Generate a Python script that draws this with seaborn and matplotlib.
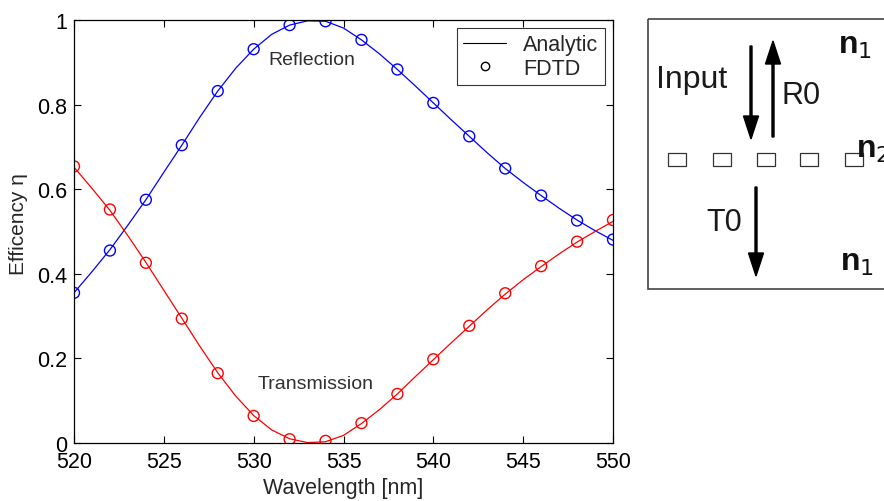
import seaborn as sns
import matplotlib.pyplot as plt
import pandas as pd
from matplotlib.patches import Rectangle, FancyArrow

# Analytic curves (1 nm steps)
wl_analytic = list(range(520, 551))
refl_analytic = [0.355, 0.405, 0.457, 0.515, 0.575, 0.640, 0.704, 0.770, 0.832, 0.886,
                 0.931, 0.966, 0.988, 0.998, 0.997, 0.981, 0.953, 0.920, 0.883, 0.844,
                 0.804, 0.764, 0.725, 0.686, 0.649, 0.616, 0.585, 0.555, 0.527, 0.502, 0.479]
trans_analytic = [0.652, 0.602, 0.550, 0.490, 0.427, 0.361, 0.295, 0.229, 0.166, 0.111,
                  0.065, 0.031, 0.010, 0.001, 0.003, 0.018, 0.046, 0.079, 0.116, 0.157,
                  0.197, 0.237, 0.276, 0.315, 0.352, 0.386, 0.417, 0.447, 0.475, 0.500, 0.524]

# FDTD samples (2 nm steps)
wl_fdtd = list(range(520, 551, 2))
refl_fdtd = [0.355, 0.455, 0.575, 0.704, 0.832, 0.931, 0.988, 0.997,
             0.953, 0.883, 0.804, 0.725, 0.649, 0.585, 0.526, 0.481]
trans_fdtd = [0.654, 0.552, 0.426, 0.294, 0.165, 0.064, 0.009, 0.005,
              0.047, 0.116, 0.198, 0.277, 0.354, 0.418, 0.476, 0.527]

df_a = pd.concat([
    pd.DataFrame({'wl': wl_analytic, 'eff': refl_analytic, 'kind': 'Reflection'}),
    pd.DataFrame({'wl': wl_analytic, 'eff': trans_analytic, 'kind': 'Transmission'}),
])
df_f = pd.concat([
    pd.DataFrame({'wl': wl_fdtd, 'eff': refl_fdtd, 'kind': 'Reflection'}),
    pd.DataFrame({'wl': wl_fdtd, 'eff': trans_fdtd, 'kind': 'Transmission'}),
])
palette = {'Reflection': '#0000ff', 'Transmission': '#ff0000'}

sns.set_style('ticks')
plt.rcParams['font.family'] = ['Liberation Sans', 'DejaVu Sans']

fig = plt.figure(figsize=(8.84, 5.02), dpi=100)
ax = fig.add_axes([74 / 884, 58 / 502, 539 / 884, 423 / 502])

sns.lineplot(data=df_a, x='wl', y='eff', hue='kind', palette=palette,
             linewidth=0.9, legend=False, ax=ax)
sns.scatterplot(data=df_f, x='wl', y='eff', hue='kind', palette=palette,
                marker='o', s=62, linewidth=1.0, legend=False, ax=ax)
for c in ax.collections:
    c.set_facecolor('none')
    c.set_edgecolor([palette[k] for k in df_f['kind']])

ax.set_xlim(520, 550)
ax.set_ylim(0, 1)
ax.set_xticks([520, 525, 530, 535, 540, 545, 550])
ax.set_yticks([0, 0.2, 0.4, 0.6, 0.8, 1])
ax.set_yticklabels(['0', '0.2', '0.4', '0.6', '0.8', '1'])
ax.tick_params(direction='in', top=True, right=True, length=5, width=0.8,
               labelsize=15.5, pad=5, colors='black')
ax.tick_params(axis='x', pad=6)
for s in ax.spines.values():
    s.set_linewidth(0.9)
    s.set_color('black')
    s.set_visible(True)
ax.set_xlabel('Wavelength [nm]', fontsize=15.5)
ax.set_ylabel('Efficency η', fontsize=15)
ax.xaxis.set_label_coords(0.5, -0.08)
ax.yaxis.set_label_coords(-0.085, 0.52)

ax.text(530.8, 0.907, 'Reflection', fontsize=14, color='#303030', va='center')
ax.text(530.2, 0.14, 'Transmission', fontsize=14, color='#303030', va='center')

# legend in black, MATLAB style
h1, = ax.plot([], [], color='black', linewidth=0.8, label='Analytic')
h2, = ax.plot([], [], linestyle='none', marker='o', markerfacecolor='none',
              markeredgecolor='black', markersize=6, label='FDTD')
leg = ax.legend(handles=[h1, h2], loc='upper right', fontsize=15.5, frameon=True,
                fancybox=False, edgecolor='black', borderpad=0.3,
                handlelength=2.0, labelspacing=0.1, borderaxespad=0,
                bbox_to_anchor=(605 / 539 - 74 / 539, 1 - 8 / 423))
leg.get_frame().set_linewidth(0.8)

# schematic on the right, in pixel coordinates
dax = fig.add_axes([0, 0, 1, 1])
dax.set_xlim(0, 884)
dax.set_ylim(502, 0)
dax.axis('off')
dax.add_patch(Rectangle((648, 20), 260, 270, fill=False, edgecolor='#444444',
                        linewidth=1.2, clip_on=False))
for x0 in [668, 713, 757, 800, 845]:
    dax.add_patch(Rectangle((x0, 154), 18, 13, fill=False, edgecolor='#333333', linewidth=0.9))

arrow_kw = dict(width=2.0, head_width=15, head_length=23, length_includes_head=True,
                color='black')
dax.add_patch(FancyArrow(751, 47, 0, 93, **arrow_kw))
dax.add_patch(FancyArrow(773, 138, 0, -96, **arrow_kw))
dax.add_patch(FancyArrow(756, 188, 0, 89, **arrow_kw))

dax.text(656, 80, 'Input', fontsize=23, va='center', ha='left', color='#1a1a1a')
dax.text(781, 96, 'R0', fontsize=22, va='center', ha='left', color='#1a1a1a')
dax.text(706, 223, 'T0', fontsize=22, va='center', ha='left', color='#1a1a1a')
dax.text(838, 46, 'n$_1$', fontsize=23, va='center', ha='left', color='#111111',
         fontweight='bold')
dax.text(856, 150, 'n$_2$', fontsize=23, va='center', ha='left', color='#111111',
         fontweight='bold')
dax.text(840, 263, 'n$_1$', fontsize=23, va='center', ha='left', color='#111111',
         fontweight='bold')

fig.savefig('out.png', dpi=100)
